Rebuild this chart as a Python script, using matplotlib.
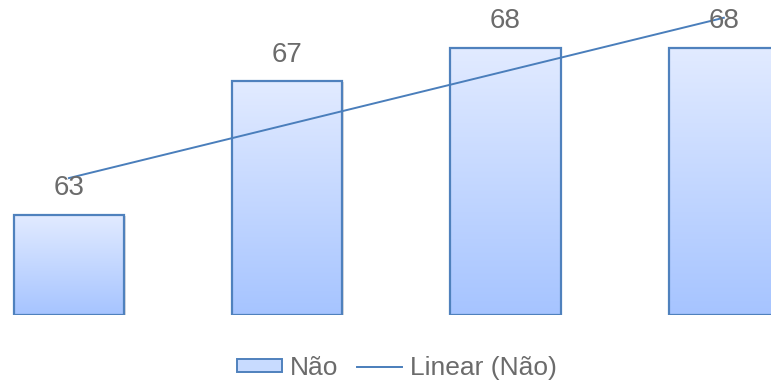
import numpy as np
import matplotlib
matplotlib.use("Agg")
import matplotlib.pyplot as plt
from matplotlib.patches import Rectangle
from matplotlib.lines import Line2D
from matplotlib.colors import LinearSegmentedColormap

plt.rcParams['font.family'] = ['Liberation Sans', 'DejaVu Sans']

categories = ["1", "2", "3", "4"]
values = [63, 67, 68, 68]
series_name = "Não"
trend_name = "Linear (Não)"

edge_color = "#4f81bd"
line_color = "#4a7ebb"
text_color = "#6b6b6b"
grad = LinearSegmentedColormap.from_list("bar_grad", ["#a6c4ff", "#e2ebff"])

fig = plt.figure(figsize=(7.71, 3.85), dpi=100)
ax = fig.add_axes([0, 1 - 315 / 385, 1, 315 / 385])
ymin, ymax = 60, 60 + 315 / 33.4
ax.set_ylim(ymin, ymax)
ax.set_xlim(-0.316, 3.216)
ax.axis("off")

x = np.arange(len(values))
width = 0.505
gradient = np.linspace(0, 1, 256).reshape(-1, 1)

for xi, v in zip(x, values):
    # soft drop shadow
    shadow = Rectangle((xi - width / 2 + 0.008, ymin), width, v - ymin - 0.03,
                       facecolor="#bfbfbf", edgecolor="none", alpha=0.5, zorder=1)
    ax.add_patch(shadow)
    rect = Rectangle((xi - width / 2, ymin), width, v - ymin,
                     facecolor="none", edgecolor=edge_color, linewidth=1.6, zorder=3)
    ax.add_patch(rect)
    im = ax.imshow(gradient, extent=(xi - width / 2, xi + width / 2, ymin, v),
                   origin="lower", cmap=grad, aspect="auto", zorder=2)
    im.set_clip_path(rect)
    ax.text(xi, v + 0.4, str(v), ha="center", va="bottom",
            fontsize=20, color=text_color, zorder=5)

# least-squares linear trend through the bar values
coef = np.polyfit(x + 1, values, 1)
trend = np.polyval(coef, x + 1)
ax.plot([x[0], x[-1]], [trend[0], trend[-1]], color=line_color, linewidth=1.4, zorder=4)

handles = [
    Rectangle((0, 0), 1, 1, facecolor="#c8dbff", edgecolor=edge_color, linewidth=1.4),
    Line2D([], [], color=line_color, linewidth=1.4),
]
fig.legend(handles, [series_name, trend_name], loc="center",
           bbox_to_anchor=(0.515, 1 - 368 / 385), ncol=2, frameon=False,
           fontsize=19, labelcolor=text_color, handlelength=1.7, handleheight=0.42,
           handletextpad=0.3, columnspacing=0.7)

ax.set_xlim(-0.316, 3.216)
ax.set_ylim(ymin, ymax)
fig.savefig("out.png", dpi=100)
